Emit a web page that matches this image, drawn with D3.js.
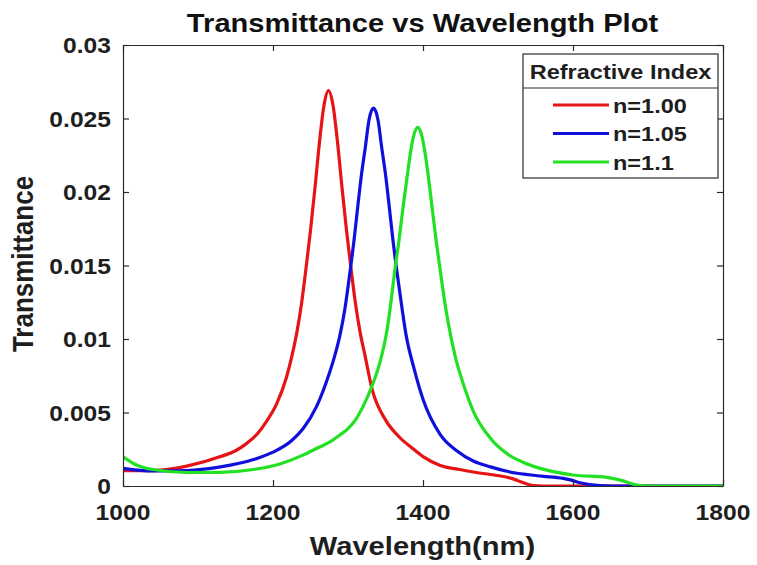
<!DOCTYPE html>
<html>
<head>
<meta charset="utf-8">
<script src="https://cdn.jsdelivr.net/npm/d3@7"></script>
<style>
  html, body { margin: 0; padding: 0; background: #fff; }
  svg { display: block; }
  text { font-family: "Liberation Sans", Arial, sans-serif; font-weight: bold; }
</style>
</head>
<body>
<svg id="chart" width="757" height="565"></svg>
<script>
// Transmittance spectra for three refractive indices
const redWavelength   = [1000, 1040, 1085, 1130, 1150, 1165, 1180, 1190, 1205, 1218, 1225, 1232, 1238, 1244, 1250, 1256, 1262, 1268, 1274, 1280, 1286, 1292, 1298, 1304, 1310, 1316, 1323, 1332, 1350, 1369, 1385, 1400, 1423, 1449, 1467, 1490, 1512, 1522, 1532, 1547, 1560, 1800];
const redValues       = [0.00105, 0.00105, 0.00135, 0.0020, 0.0024, 0.0029, 0.0036, 0.0043, 0.0056, 0.0074, 0.0088, 0.0105, 0.0124, 0.0148, 0.0174, 0.0203, 0.0234, 0.0259, 0.0269, 0.0259, 0.0234, 0.0203, 0.0174, 0.0148, 0.0124, 0.0105, 0.0088, 0.0066, 0.0045, 0.0033, 0.0026, 0.0020, 0.0014, 0.00112, 0.00095, 0.00078, 0.0006, 0.00045, 0.00025, 0.00003, 0, 0];

const blueWavelength  = [1000, 1040, 1085, 1130, 1174, 1200, 1225, 1240, 1258, 1274, 1282, 1289, 1296, 1302, 1308, 1313, 1318, 1323, 1328, 1334, 1340, 1345, 1350, 1355, 1360, 1366, 1372, 1377, 1388, 1400, 1423, 1445, 1467, 1490, 1512, 1556, 1587, 1598, 1609, 1622, 1636, 1650, 1800];
const blueValues      = [0.0012, 0.00102, 0.00105, 0.0013, 0.0018, 0.0023, 0.0031, 0.0039, 0.0054, 0.0075, 0.0088, 0.0102, 0.0121, 0.0143, 0.0167, 0.0190, 0.0212, 0.0230, 0.0249, 0.0257, 0.0249, 0.0230, 0.0212, 0.0190, 0.0167, 0.0143, 0.0121, 0.0104, 0.0080, 0.0059, 0.0035, 0.0024, 0.0017, 0.0013, 0.0010, 0.00068, 0.00052, 0.0004, 0.00022, 0.0001, 0.00003, 0, 0];

const greenWavelength = [1000, 1018, 1040, 1085, 1129, 1174, 1209, 1240, 1260, 1276, 1290, 1300, 1310, 1320, 1332, 1343, 1352, 1357, 1362, 1368, 1374, 1379, 1384, 1388, 1393, 1398, 1402, 1407, 1412, 1418, 1424, 1429, 1434, 1443, 1454, 1467, 1489, 1512, 1534, 1556, 1600, 1645, 1663, 1685, 1700, 1800];
const greenValues     = [0.00199, 0.00143, 0.00112, 0.00092, 0.00093, 0.00112, 0.0015, 0.0021, 0.0026, 0.0030, 0.0035, 0.0039, 0.0045, 0.0054, 0.0068, 0.0085, 0.0106, 0.0124, 0.0145, 0.0167, 0.0192, 0.0211, 0.0229, 0.0239, 0.0244, 0.0239, 0.0229, 0.0211, 0.0190, 0.0165, 0.0143, 0.0125, 0.0110, 0.0088, 0.0069, 0.0051, 0.0033, 0.0022, 0.0016, 0.0012, 0.00075, 0.00059, 0.0004, 0.00007, 0, 0];

const seriesNames  = ["n=1.00", "n=1.05", "n=1.1"];
const seriesColors = ["#e61414", "#1010dc", "#22e022"];

const xTickValues = [1000, 1200, 1400, 1600, 1800];
const yTickValues = [0, 0.005, 0.01, 0.015, 0.02, 0.025, 0.03];
const yTickLabels = ["0", "0.005", "0.01", "0.015", "0.02", "0.025", "0.03"];

const titleText  = "Transmittance vs Wavelength Plot";
const xLabelText = "Wavelength(nm)";
const yLabelText = "Transmittance";
const legendTitleText = "Refractive Index";

// Layout
const plot = { left: 123, top: 45, right: 723, bottom: 486 };
const SX = 1.12;          // horizontal widening applied to text glyphs
const axisColor = "#2b2b2b";
const textColor = "#1e1e1e";

const svg = d3.select("#chart");

const x = d3.scaleLinear().domain([1000, 1800]).range([plot.left, plot.right]);
const y = d3.scaleLinear().domain([0, 0.03]).range([plot.bottom, plot.top]);

// Helper: text placed at (px,py) with a horizontal stretch
function stretchedText(parent, px, py, str, size, anchor, color) {
  return parent.append("text")
    .attr("transform", `translate(${px},${py}) scale(${SX},1)`)
    .attr("text-anchor", anchor)
    .attr("font-size", size)
    .attr("fill", color || textColor)
    .text(str);
}

// Curves
const series = [
  { wl: redWavelength, val: redValues },
  { wl: blueWavelength, val: blueValues },
  { wl: greenWavelength, val: greenValues }
];

const line = d3.line()
  .x(d => x(d[0]))
  .y(d => y(d[1]))
  .curve(d3.curveMonotoneX);

const clipId = "plot-clip";
svg.append("clipPath").attr("id", clipId)
  .append("rect")
  .attr("x", plot.left).attr("y", plot.top)
  .attr("width", plot.right - plot.left).attr("height", plot.bottom - plot.top);

const curves = svg.append("g").attr("clip-path", `url(#${clipId})`);
series.forEach((s, i) => {
  curves.append("path")
    .datum(d3.zip(s.wl, s.val))
    .attr("fill", "none")
    .attr("stroke", seriesColors[i])
    .attr("stroke-width", 3.2)
    .attr("stroke-linejoin", "round")
    .attr("d", line);
});

// Axes (ticks pointing inward, box on all four sides)
const tickLen = 6;
const bottomAxis = svg.append("g")
  .attr("transform", `translate(0,${plot.bottom})`)
  .call(d3.axisBottom(x).tickValues(xTickValues).tickSizeInner(-tickLen).tickSizeOuter(0).tickFormat(""));
const topAxis = svg.append("g")
  .attr("transform", `translate(0,${plot.top})`)
  .call(d3.axisTop(x).tickValues(xTickValues).tickSizeInner(-tickLen).tickSizeOuter(0).tickFormat(""));
const leftAxis = svg.append("g")
  .attr("transform", `translate(${plot.left},0)`)
  .call(d3.axisLeft(y).tickValues(yTickValues).tickSizeInner(-tickLen).tickSizeOuter(0).tickFormat(""));
const rightAxis = svg.append("g")
  .attr("transform", `translate(${plot.right},0)`)
  .call(d3.axisRight(y).tickValues(yTickValues).tickSizeInner(-tickLen).tickSizeOuter(0).tickFormat(""));

[bottomAxis, topAxis, leftAxis, rightAxis].forEach(g => {
  g.selectAll("path.domain").attr("stroke", axisColor).attr("stroke-width", 1.2);
  g.selectAll(".tick line").attr("stroke", axisColor).attr("stroke-width", 1.2);
});

// Tick labels
const tickLabelSize = 22;
xTickValues.forEach(v => {
  stretchedText(svg, x(v), plot.bottom + 34, String(v), tickLabelSize, "middle");
});
yTickValues.forEach((v, i) => {
  stretchedText(svg, plot.left - 12, y(v) + 8, yTickLabels[i], tickLabelSize, "end");
});

// Title and axis labels
stretchedText(svg, 422.5, 32, titleText, 26, "middle", "#111");
stretchedText(svg, 422.5, 555, xLabelText, 26, "middle");
svg.append("text")
  .attr("transform", `translate(33,264) rotate(-90) scale(1,${SX})`)
  .attr("text-anchor", "middle")
  .attr("font-size", 26)
  .attr("fill", textColor)
  .text(yLabelText);

// Legend
const legend = { x: 523, y: 54, w: 195, h: 124, sep: 34 };
const lg = svg.append("g");
lg.append("rect")
  .attr("x", legend.x).attr("y", legend.y)
  .attr("width", legend.w).attr("height", legend.h)
  .attr("fill", "#fff").attr("stroke", axisColor).attr("stroke-width", 1.2);
lg.append("line")
  .attr("x1", legend.x).attr("x2", legend.x + legend.w)
  .attr("y1", legend.y + legend.sep).attr("y2", legend.y + legend.sep)
  .attr("stroke", axisColor).attr("stroke-width", 1.2);
stretchedText(lg, legend.x + legend.w / 2, legend.y + 25, legendTitleText, 21, "middle");

const rowY = d3.scalePoint().domain(seriesNames).range([legend.y + 51, legend.y + 108]);
seriesNames.forEach((name, i) => {
  const cy = rowY(name);
  lg.append("line")
    .attr("x1", legend.x + 30).attr("x2", legend.x + 86)
    .attr("y1", cy).attr("y2", cy)
    .attr("stroke", seriesColors[i]).attr("stroke-width", 3.2);
  stretchedText(lg, legend.x + 90, cy + 7.5, name, 21, "start");
});
</script>
</body>
</html>
